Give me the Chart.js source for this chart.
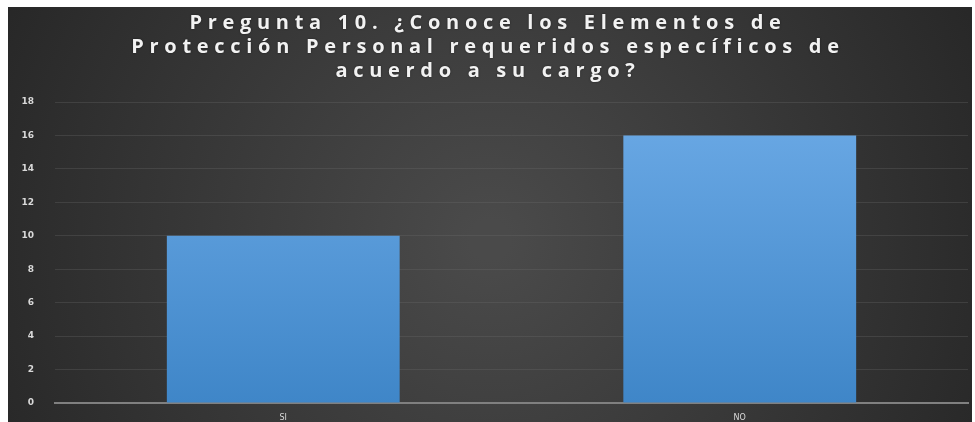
<!DOCTYPE html>
<html>
<head>
<meta charset="utf-8">
<script src="https://cdn.jsdelivr.net/npm/chart.js@4.4.1/dist/chart.umd.min.js"></script>
<style>
  html, body { margin: 0; padding: 0; background: #ffffff; }
  #wrap { width: 975px; height: 422px; position: relative; }
</style>
</head>
<body>
<div id="wrap"><canvas id="chart"></canvas></div>
<script>
// Data
const categories = ['SI', 'NO'];
const responses = [10, 16];
const yTicks = [0, 2, 4, 6, 8, 10, 12, 14, 16, 18];
const titleLines = [
  'Pregunta 10. ¿Conoce los Elementos de',
  'Protección Personal requeridos específicos de',
  'acuerdo a su cargo?'
];

// Dark panel with a soft radial glow, drawn behind everything
const panelBg = {
  id: 'panelBg',
  beforeDraw(chart) {
    const c = chart.ctx;
    const x0 = 8, y0 = 7, x1 = 972, y1 = 422;
    const g = c.createRadialGradient(490, 240, 20, 490, 240, 560);
    g.addColorStop(0, '#4a4a4a');
    g.addColorStop(1, '#262626');
    c.save();
    c.fillStyle = g;
    c.fillRect(x0, y0, x1 - x0, y1 - y0);
    c.restore();
  }
};

// Spaced-out bold title, Excel style
const wideTitle = {
  id: 'wideTitle',
  afterDraw(chart) {
    const c = chart.ctx;
    c.save();
    c.font = 'bold 20px "Open Sans"';
    c.letterSpacing = '5.7px';
    c.fillStyle = '#f2f2f2';
    c.textAlign = 'center';
    c.textBaseline = 'alphabetic';
    c.shadowColor = 'rgba(0,0,0,0.5)';
    c.shadowBlur = 2;
    titleLines.forEach((line, i) => {
      c.fillText(line, 488, 29 + i * 24);
    });
    c.restore();
  }
};

const ctx = document.getElementById('chart').getContext('2d');

const barFill = (context) => {
  const area = context.chart.chartArea;
  if (!area) return '#5b9bd5';
  const g = context.chart.ctx.createLinearGradient(0, area.top, 0, area.bottom);
  g.addColorStop(0, '#6caae6');
  g.addColorStop(1, '#3f86c8');
  return g;
};

new Chart(ctx, {
  type: 'bar',
  data: {
    labels: categories,
    datasets: [{
      data: responses,
      backgroundColor: barFill,
      borderWidth: 0,
      categoryPercentage: 1,
      barPercentage: 0.51
    }]
  },
  options: {
    responsive: true,
    maintainAspectRatio: false,
    animation: false,
    layout: { padding: { top: 102, right: 7, left: 0, bottom: 0 } },
    plugins: {
      legend: { display: false },
      title: { display: false },
      tooltip: { enabled: false }
    },
    scales: {
      x: {
        grid: { display: false, drawTicks: false },
        border: { display: true, color: '#808080', width: 2 },
        ticks: { color: '#d9d9d9', font: { family: 'DejaVu Sans', size: 8 }, padding: 10 },
        afterFit(scale) { scale.height = 19; }
      },
      y: {
        min: 0,
        max: 18,
        afterBuildTicks(scale) { scale.ticks = yTicks.map(v => ({ value: v })); },
        grid: { color: 'rgba(110,110,110,0.3)', lineWidth: 1, drawTicks: false },
        border: { display: false },
        ticks: { color: '#d9d9d9', font: { family: 'DejaVu Sans', size: 9, weight: 'bold' }, padding: 21 },
        afterFit(scale) {
          scale.width = 55;
          scale.paddingTop = 0;
          scale.paddingBottom = 0;
        }
      }
    }
  },
  plugins: [panelBg, wideTitle]
});
</script>
</body>
</html>
